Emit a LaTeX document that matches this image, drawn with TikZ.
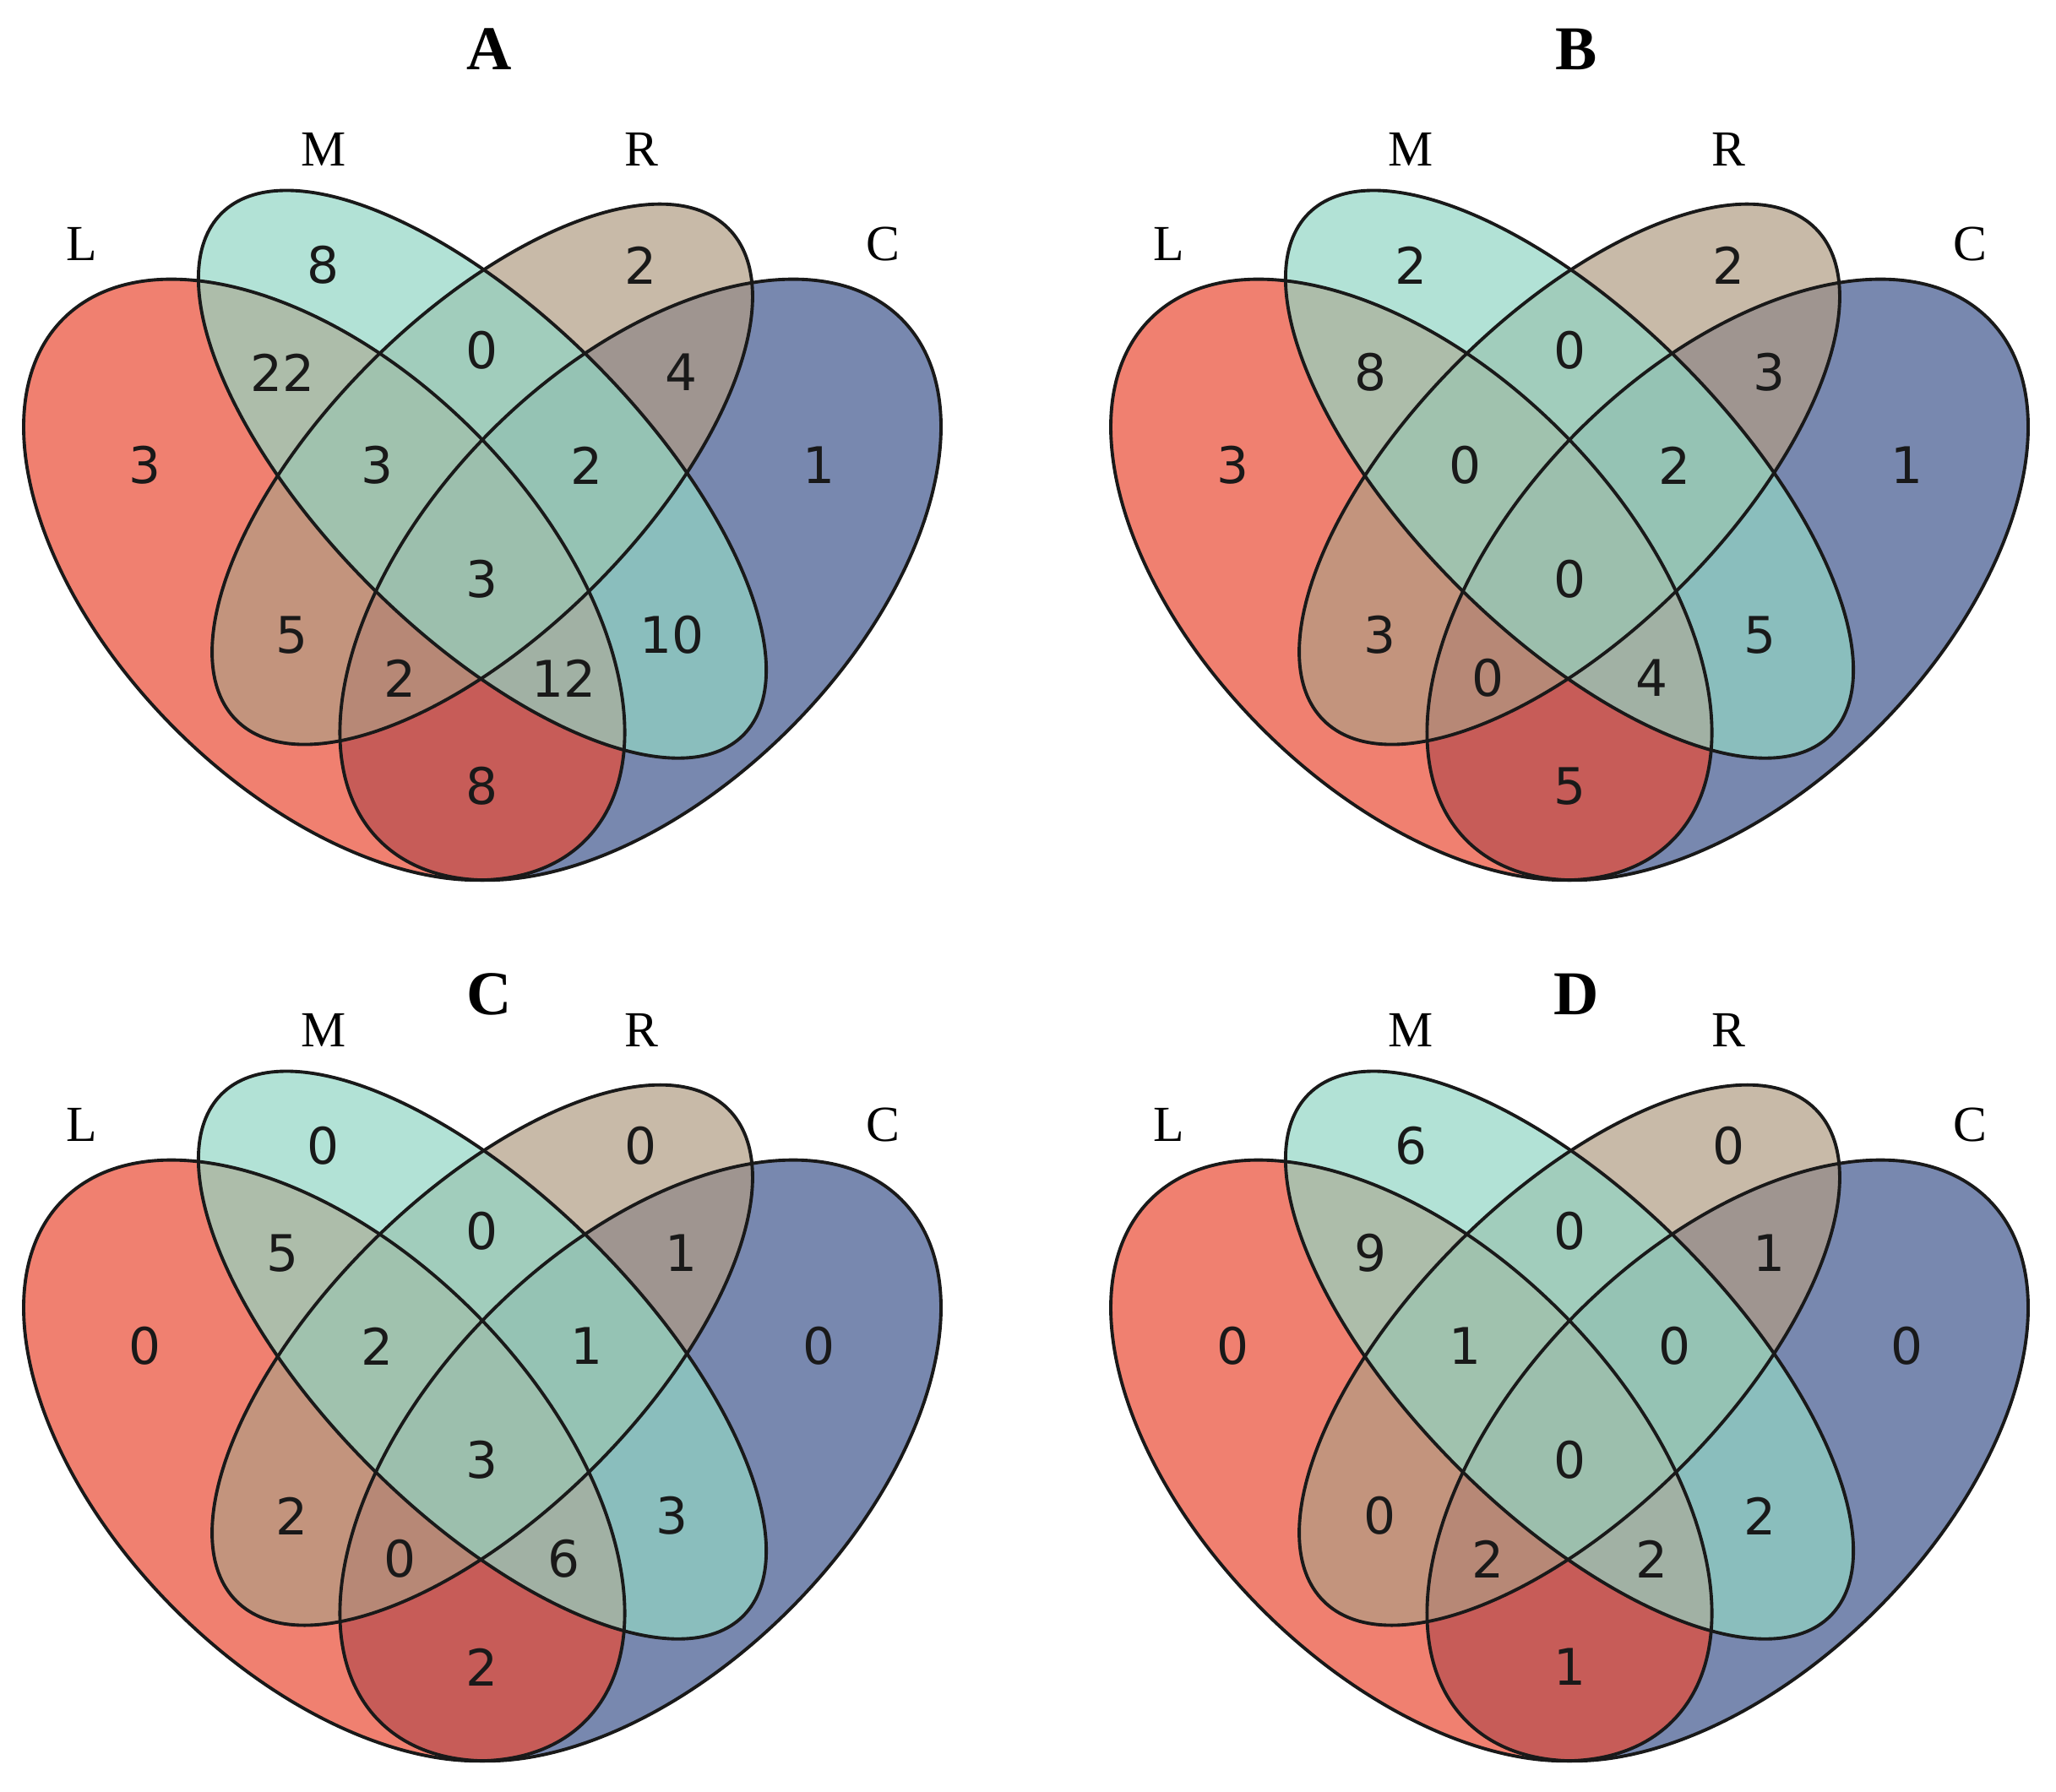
\documentclass[tikz,border=0pt]{standalone}
\usepackage{fontspec}
\setmainfont{Liberation Serif}
\newfontfamily\digitfont{DejaVu Sans}
\newlength{\du}
\setlength{\du}{0.01cm}
\definecolor{lcolor}{rgb}{0.918, 0.290, 0.200}
\definecolor{mcolor}{rgb}{0.569, 0.839, 0.769}
\definecolor{rcolor}{rgb}{0.690, 0.612, 0.514}
\definecolor{ccolor}{rgb}{0.243, 0.333, 0.553}
\tikzset{
  setfill/.style={fill opacity=0.7},
  lfill/.style={setfill, fill=lcolor},
  mfill/.style={setfill, fill=mcolor},
  rfill/.style={setfill, fill=rcolor},
  cfill/.style={setfill, fill=ccolor},
  vline/.style={draw=black!90, line width=1.1pt},
  count/.style={inner sep=0pt, text=black!90, font=\digitfont\fontsize{17pt}{20pt}\selectfont},
  setname/.style={inner sep=0pt, font=\fontsize{17pt}{20pt}\selectfont},
  panel/.style={inner sep=0pt, font=\bfseries\fontsize{21pt}{25pt}\selectfont},
}

\begin{document}
\begin{tikzpicture}
\pgftransformxscale{1.000000}
\pgftransformyscale{-1.000000}
\useasboundingbox (0\du,0\du) rectangle (2434\du,2121\du);
% panel A
\fill[cfill, rotate around={-45:(758.2\du,686.4\du)}] (758.2\du,686.4\du) ellipse [x radius=436.8\du, y radius=249.6\du];
\fill[lfill, rotate around={45:(383.8\du,686.4\du)}] (383.8\du,686.4\du) ellipse [x radius=436.8\du, y radius=249.6\du];
\fill[rfill, rotate around={-45:(571\du,561.6\du)}] (571\du,561.6\du) ellipse [x radius=411.8\du, y radius=187.2\du];
\fill[mfill, rotate around={45:(571\du,561.6\du)}] (571\du,561.6\du) ellipse [x radius=436.8\du, y radius=187.2\du];
\draw[vline, rotate around={-45:(758.2\du,686.4\du)}] (758.2\du,686.4\du) ellipse [x radius=436.8\du, y radius=249.6\du];
\draw[vline, rotate around={45:(383.8\du,686.4\du)}] (383.8\du,686.4\du) ellipse [x radius=436.8\du, y radius=249.6\du];
\draw[vline, rotate around={-45:(571\du,561.6\du)}] (571\du,561.6\du) ellipse [x radius=411.8\du, y radius=187.2\du];
\draw[vline, rotate around={45:(571\du,561.6\du)}] (571\du,561.6\du) ellipse [x radius=436.8\du, y radius=187.2\du];
\node[panel] (a-title) at (579\du,58\du){A};
\node[setname] (a-l) at (97\du,289\du){L};
\node[setname] (a-m) at (383\du,177\du){M};
\node[setname] (a-r) at (759\du,177\du){R};
\node[setname] (a-c) at (1045\du,289\du){C};
\node[count] (a-mo) at (383\du,314\du){8};
\node[count] (a-ro) at (759\du,314\du){2};
\node[count] (a-lm) at (335\du,441\du){22};
\node[count] (a-mr) at (571\du,415\du){0};
\node[count] (a-rc) at (807\du,441\du){4};
\node[count] (a-lo) at (172\du,551\du){3};
\node[count] (a-lmr) at (447\du,551\du){3};
\node[count] (a-mrc) at (695\du,551\du){2};
\node[count] (a-co) at (970\du,551\du){1};
\node[count] (a-all) at (571\du,686\du){3};
\node[count] (a-lr) at (346\du,752\du){5};
\node[count] (a-mc) at (796\du,752\du){10};
\node[count] (a-lrc) at (474\du,803\du){2};
\node[count] (a-lmc) at (668\du,803\du){12};
\node[count] (a-lc) at (571\du,931\du){8};
% panel B
\fill[cfill, rotate around={-45:(2045.2\du,686.4\du)}] (2045.2\du,686.4\du) ellipse [x radius=436.8\du, y radius=249.6\du];
\fill[lfill, rotate around={45:(1670.8\du,686.4\du)}] (1670.8\du,686.4\du) ellipse [x radius=436.8\du, y radius=249.6\du];
\fill[rfill, rotate around={-45:(1858\du,561.6\du)}] (1858\du,561.6\du) ellipse [x radius=411.8\du, y radius=187.2\du];
\fill[mfill, rotate around={45:(1858\du,561.6\du)}] (1858\du,561.6\du) ellipse [x radius=436.8\du, y radius=187.2\du];
\draw[vline, rotate around={-45:(2045.2\du,686.4\du)}] (2045.2\du,686.4\du) ellipse [x radius=436.8\du, y radius=249.6\du];
\draw[vline, rotate around={45:(1670.8\du,686.4\du)}] (1670.8\du,686.4\du) ellipse [x radius=436.8\du, y radius=249.6\du];
\draw[vline, rotate around={-45:(1858\du,561.6\du)}] (1858\du,561.6\du) ellipse [x radius=411.8\du, y radius=187.2\du];
\draw[vline, rotate around={45:(1858\du,561.6\du)}] (1858\du,561.6\du) ellipse [x radius=436.8\du, y radius=187.2\du];
\node[panel] (b-title) at (1866\du,58\du){B};
\node[setname] (b-l) at (1384\du,289\du){L};
\node[setname] (b-m) at (1670\du,177\du){M};
\node[setname] (b-r) at (2046\du,177\du){R};
\node[setname] (b-c) at (2332\du,289\du){C};
\node[count] (b-mo) at (1670\du,314\du){2};
\node[count] (b-ro) at (2046\du,314\du){2};
\node[count] (b-lm) at (1622\du,441\du){8};
\node[count] (b-mr) at (1858\du,415\du){0};
\node[count] (b-rc) at (2094\du,441\du){3};
\node[count] (b-lo) at (1459\du,551\du){3};
\node[count] (b-lmr) at (1734\du,551\du){0};
\node[count] (b-mrc) at (1982\du,551\du){2};
\node[count] (b-co) at (2257\du,551\du){1};
\node[count] (b-all) at (1858\du,686\du){0};
\node[count] (b-lr) at (1633\du,752\du){3};
\node[count] (b-mc) at (2083\du,752\du){5};
\node[count] (b-lrc) at (1761\du,803\du){0};
\node[count] (b-lmc) at (1955\du,803\du){4};
\node[count] (b-lc) at (1858\du,931\du){5};
% panel C
\fill[cfill, rotate around={-45:(758.2\du,1729.4\du)}] (758.2\du,1729.4\du) ellipse [x radius=436.8\du, y radius=249.6\du];
\fill[lfill, rotate around={45:(383.8\du,1729.4\du)}] (383.8\du,1729.4\du) ellipse [x radius=436.8\du, y radius=249.6\du];
\fill[rfill, rotate around={-45:(571\du,1604.6\du)}] (571\du,1604.6\du) ellipse [x radius=411.8\du, y radius=187.2\du];
\fill[mfill, rotate around={45:(571\du,1604.6\du)}] (571\du,1604.6\du) ellipse [x radius=436.8\du, y radius=187.2\du];
\draw[vline, rotate around={-45:(758.2\du,1729.4\du)}] (758.2\du,1729.4\du) ellipse [x radius=436.8\du, y radius=249.6\du];
\draw[vline, rotate around={45:(383.8\du,1729.4\du)}] (383.8\du,1729.4\du) ellipse [x radius=436.8\du, y radius=249.6\du];
\draw[vline, rotate around={-45:(571\du,1604.6\du)}] (571\du,1604.6\du) ellipse [x radius=411.8\du, y radius=187.2\du];
\draw[vline, rotate around={45:(571\du,1604.6\du)}] (571\du,1604.6\du) ellipse [x radius=436.8\du, y radius=187.2\du];
\node[panel] (c-title) at (579\du,1177\du){C};
\node[setname] (c-l) at (97\du,1332\du){L};
\node[setname] (c-m) at (383\du,1220\du){M};
\node[setname] (c-r) at (759\du,1220\du){R};
\node[setname] (c-c) at (1045\du,1332\du){C};
\node[count] (c-mo) at (383\du,1357\du){0};
\node[count] (c-ro) at (759\du,1357\du){0};
\node[count] (c-lm) at (335\du,1484\du){5};
\node[count] (c-mr) at (571\du,1458\du){0};
\node[count] (c-rc) at (807\du,1484\du){1};
\node[count] (c-lo) at (172\du,1594\du){0};
\node[count] (c-lmr) at (447\du,1594\du){2};
\node[count] (c-mrc) at (695\du,1594\du){1};
\node[count] (c-co) at (970\du,1594\du){0};
\node[count] (c-all) at (571\du,1729\du){3};
\node[count] (c-lr) at (346\du,1795\du){2};
\node[count] (c-mc) at (796\du,1795\du){3};
\node[count] (c-lrc) at (474\du,1846\du){0};
\node[count] (c-lmc) at (668\du,1846\du){6};
\node[count] (c-lc) at (571\du,1974\du){2};
% panel D
\fill[cfill, rotate around={-45:(2045.2\du,1729.4\du)}] (2045.2\du,1729.4\du) ellipse [x radius=436.8\du, y radius=249.6\du];
\fill[lfill, rotate around={45:(1670.8\du,1729.4\du)}] (1670.8\du,1729.4\du) ellipse [x radius=436.8\du, y radius=249.6\du];
\fill[rfill, rotate around={-45:(1858\du,1604.6\du)}] (1858\du,1604.6\du) ellipse [x radius=411.8\du, y radius=187.2\du];
\fill[mfill, rotate around={45:(1858\du,1604.6\du)}] (1858\du,1604.6\du) ellipse [x radius=436.8\du, y radius=187.2\du];
\draw[vline, rotate around={-45:(2045.2\du,1729.4\du)}] (2045.2\du,1729.4\du) ellipse [x radius=436.8\du, y radius=249.6\du];
\draw[vline, rotate around={45:(1670.8\du,1729.4\du)}] (1670.8\du,1729.4\du) ellipse [x radius=436.8\du, y radius=249.6\du];
\draw[vline, rotate around={-45:(1858\du,1604.6\du)}] (1858\du,1604.6\du) ellipse [x radius=411.8\du, y radius=187.2\du];
\draw[vline, rotate around={45:(1858\du,1604.6\du)}] (1858\du,1604.6\du) ellipse [x radius=436.8\du, y radius=187.2\du];
\node[panel] (d-title) at (1866\du,1177\du){D};
\node[setname] (d-l) at (1384\du,1332\du){L};
\node[setname] (d-m) at (1670\du,1220\du){M};
\node[setname] (d-r) at (2046\du,1220\du){R};
\node[setname] (d-c) at (2332\du,1332\du){C};
\node[count] (d-mo) at (1670\du,1357\du){6};
\node[count] (d-ro) at (2046\du,1357\du){0};
\node[count] (d-lm) at (1622\du,1484\du){9};
\node[count] (d-mr) at (1858\du,1458\du){0};
\node[count] (d-rc) at (2094\du,1484\du){1};
\node[count] (d-lo) at (1459\du,1594\du){0};
\node[count] (d-lmr) at (1734\du,1594\du){1};
\node[count] (d-mrc) at (1982\du,1594\du){0};
\node[count] (d-co) at (2257\du,1594\du){0};
\node[count] (d-all) at (1858\du,1729\du){0};
\node[count] (d-lr) at (1633\du,1795\du){0};
\node[count] (d-mc) at (2083\du,1795\du){2};
\node[count] (d-lrc) at (1761\du,1846\du){2};
\node[count] (d-lmc) at (1955\du,1846\du){2};
\node[count] (d-lc) at (1858\du,1974\du){1};
\end{tikzpicture}
\end{document}
